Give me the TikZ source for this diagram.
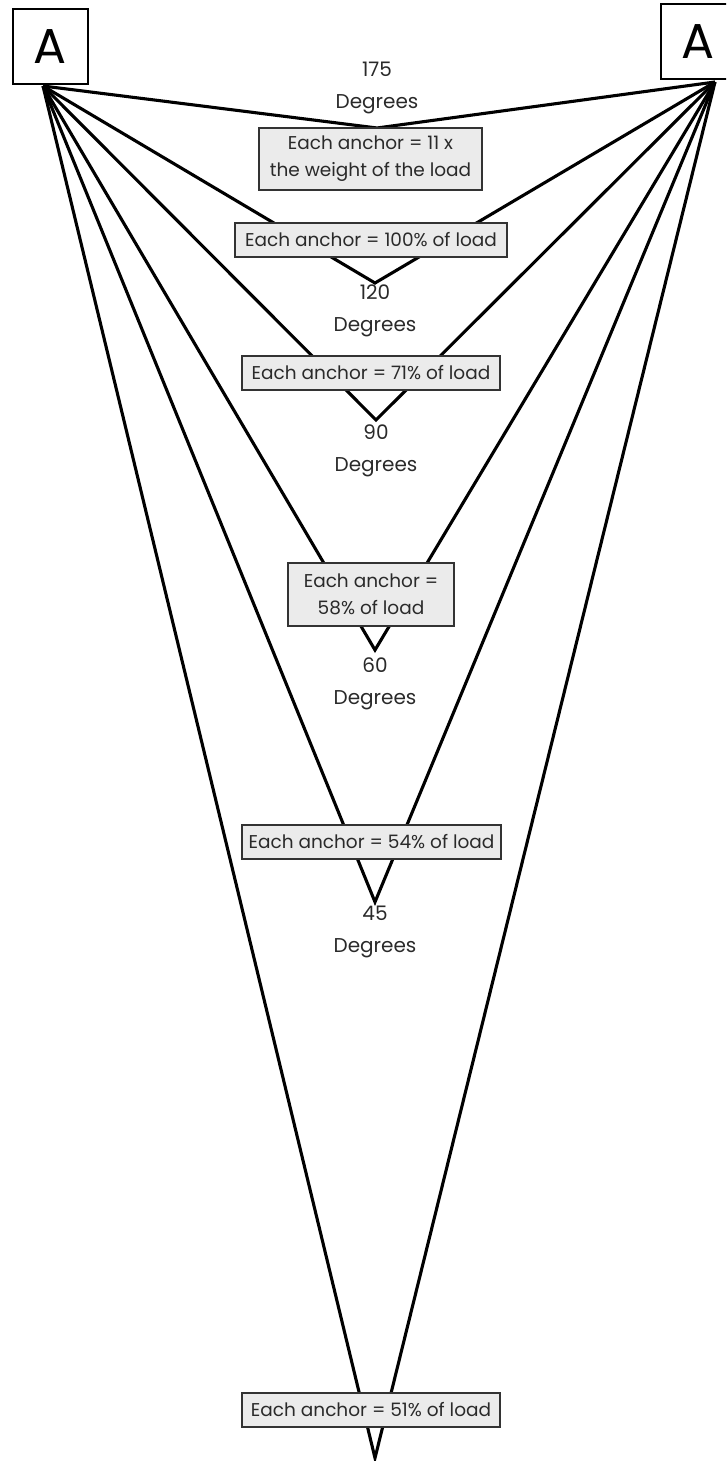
\documentclass[tikz,border=0pt]{standalone}
\usepackage{fontspec}
\setmainfont{Poppins}
\definecolor{boxfill}{HTML}{EBEBEB}
\definecolor{boxdraw}{HTML}{333333}
\definecolor{txt}{HTML}{2A2A2A}
\begin{document}
\begin{tikzpicture}[x=1pt,y=-1pt,
  rope/.style={line width=3.1pt,line join=miter},
  anchorbox/.style={draw=black,line width=2pt,fill=white,minimum width=75pt,minimum height=75pt,inner sep=0pt,font=\fontsize{49}{49}\selectfont},
  loadbox/.style={draw=boxdraw,line width=2.2pt,fill=boxfill,inner sep=0pt,align=center,text=txt,font=\fontsize{18.5}{27}\selectfont},
  deg/.style={align=center,text=txt,font=\fontsize{20}{32}\selectfont,inner sep=0pt}]
\useasboundingbox (0,0) rectangle (726,1461);
\clip (0,0) rectangle (726,1461);
\fill[white] (0,0) rectangle (726,1461);
\node[anchorbox] (A1) at (50.5,46.5) {A};
\node[anchorbox] (A2) at (698.5,42) {A};
\coordinate (la) at (43,86);
\coordinate (ra) at (715,82);
\coordinate (v175) at (377,128);
\coordinate (v120) at (375,283);
\coordinate (v90) at (376,420);
\coordinate (v60) at (375,650);
\coordinate (v45) at (375,902);
\coordinate (v51) at (375,1458);
\foreach \v in {v175,v120,v90,v60,v45,v51}{
  \draw[rope] (la) -- (\v) -- (ra);
}
\node[loadbox,minimum width=223pt,minimum height=62pt] (b1) at (370.5,159) {Each anchor = 11 x\\the weight of the load};
\node[loadbox,minimum width=272pt,minimum height=34pt] (b2) at (371,240) {Each anchor = 100\% of load};
\node[loadbox,minimum width=258pt,minimum height=34pt] (b3) at (371,373) {Each anchor = 71\% of load};
\node[loadbox,minimum width=166pt,minimum height=63pt] (b4) at (371,594.5) {Each anchor =\\58\% of load};
\node[loadbox,minimum width=259pt,minimum height=34pt] (b5) at (371.5,842) {Each anchor = 54\% of load};
\node[loadbox,minimum width=258pt,minimum height=34pt] (b6) at (371,1410) {Each anchor = 51\% of load};
\node[deg] (d175) at (377,88) {175\\Degrees};
\node[deg] (d120) at (375,311) {120\\Degrees};
\node[deg] (d90) at (376,451) {90\\Degrees};
\node[deg] (d60) at (375,684) {60\\Degrees};
\node[deg] (d45) at (375,932) {45\\Degrees};
\end{tikzpicture}
\end{document}
